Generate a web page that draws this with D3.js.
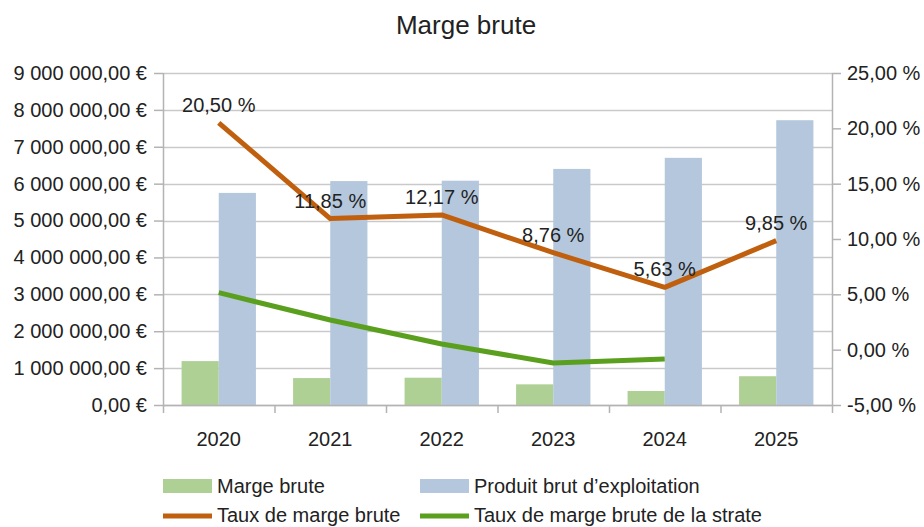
<!DOCTYPE html>
<html>
<head>
<meta charset="utf-8">
<script src="https://cdn.jsdelivr.net/npm/d3@7"></script>
<style>
  html, body { margin: 0; padding: 0; background: #fff; }
  svg { display: block; font-family: "Liberation Sans", Arial, sans-serif; }
</style>
</head>
<body>
<svg id="chart" width="924" height="527"></svg>
<script>
const years = ["2020", "2021", "2022", "2023", "2024", "2025"];
const margeBrute = [1190000, 730000, 740000, 560000, 380000, 780000];
const produitBrut = [5750000, 6070000, 6080000, 6400000, 6700000, 7720000];
const tauxMarge = [20.50, 11.85, 12.17, 8.76, 5.63, 9.85];
const tauxStrate = [5.15, 2.68, 0.51, -1.20, -0.84, null];
const leftTicks = [0, 1000000, 2000000, 3000000, 4000000, 5000000, 6000000, 7000000, 8000000, 9000000];
const rightTicks = [-5, 0, 5, 10, 15, 20, 25];

(function () {
const svg = d3.select("#chart");
const pL = 163, pR = 832, pT = 73, pB = 405;
const fontSize = 20;
const textColor = "#222";
const axisColor = "#b3b3b3";
const gridColor = "#c9c9c9";

const x = d3.scaleBand().domain(years).range([pL, pR]).padding(0);
const x1 = d3.scaleBand().domain(["marge", "produit"]).range([0, x.bandwidth()]).paddingInner(0).paddingOuter(0.5);
const yL = d3.scaleLinear().domain([0, 9000000]).range([pB, pT]);
const yR = d3.scaleLinear().domain([-5, 25]).range([pB, pT]);

const fmtEur = v => {
  const s = d3.format(",.2f")(v).replace(/,/g, " ").replace(".", ",");
  return s + " €";
};
const fmtPct = v => d3.format(".2f")(v).replace(".", ",").replace("\u2212", "-") + " %";

// Title
svg.append("text").attr("x", 466).attr("y", 34).attr("text-anchor", "middle")
  .attr("font-size", 26).attr("fill", textColor).text("Marge brute");

// Gridlines
svg.append("g").selectAll("line").data(leftTicks).join("line")
  .attr("x1", pL).attr("x2", pR)
  .attr("y1", d => Math.round(yL(d)) + 0.5).attr("y2", d => Math.round(yL(d)) + 0.5)
  .attr("stroke", gridColor).attr("stroke-width", 1.5);

// Left axis
const gL = svg.append("g").attr("transform", `translate(${pL},0)`)
  .call(d3.axisLeft(yL).tickValues(leftTicks).tickFormat(fmtEur).tickSize(9).tickPadding(7));
gL.select(".domain").remove();
gL.selectAll(".tick line").attr("stroke", axisColor).attr("stroke-width", 1.5);
gL.selectAll(".tick text").attr("font-size", fontSize).attr("fill", textColor).attr("font-family", "Liberation Sans, Arial, sans-serif");

// Right axis
const gR = svg.append("g").attr("transform", `translate(${pR},0)`)
  .call(d3.axisRight(yR).tickValues(rightTicks).tickFormat(fmtPct).tickSize(9).tickPadding(6));
gR.select(".domain").remove();
gR.selectAll(".tick line").attr("stroke", axisColor).attr("stroke-width", 1.5);
gR.selectAll(".tick text").attr("font-size", fontSize).attr("fill", textColor).attr("font-family", "Liberation Sans, Arial, sans-serif");

// Bars
const barGroups = svg.append("g").selectAll("g").data(years).join("g")
  .attr("transform", d => `translate(${x(d)},0)`);
barGroups.append("rect")
  .attr("x", x1("marge")).attr("width", x1.bandwidth())
  .attr("y", (d, i) => yL(margeBrute[i])).attr("height", (d, i) => yL(0) - yL(margeBrute[i]))
  .attr("fill", "#afd095");
barGroups.append("rect")
  .attr("x", x1("produit")).attr("width", x1.bandwidth())
  .attr("y", (d, i) => yL(produitBrut[i])).attr("height", (d, i) => yL(0) - yL(produitBrut[i]))
  .attr("fill", "#b4c7dc");

// Vertical axis lines
svg.append("line").attr("x1", pL + 0.5).attr("x2", pL + 0.5).attr("y1", pT).attr("y2", pB + 8)
  .attr("stroke", axisColor).attr("stroke-width", 1.5);
svg.append("line").attr("x1", pR + 0.5).attr("x2", pR + 0.5).attr("y1", pT).attr("y2", pB + 8)
  .attr("stroke", axisColor).attr("stroke-width", 1.5);

// Bottom axis
const gX = svg.append("g").attr("transform", `translate(0,${pB})`)
  .call(d3.axisBottom(x).tickSize(0).tickPadding(27));
gX.select(".domain").attr("stroke", axisColor).attr("stroke-width", 1.5);
gX.selectAll(".tick text").attr("font-size", fontSize).attr("fill", textColor).attr("font-family", "Liberation Sans, Arial, sans-serif");
svg.append("g").selectAll("line").data(years.slice(1)).join("line")
  .attr("x1", d => x(d) + 0.5).attr("x2", d => x(d) + 0.5)
  .attr("y1", pB).attr("y2", pB + 8)
  .attr("stroke", axisColor).attr("stroke-width", 1.5);

// Lines
const cx = d => x(d) + x.bandwidth() / 2;
const lineGen = d3.line().defined(d => d.v !== null).x(d => cx(d.year)).y(d => yR(d.v));
svg.append("path").datum(years.map((y, i) => ({ year: y, v: tauxStrate[i] })))
  .attr("d", lineGen).attr("fill", "none").attr("stroke", "#5aa01e").attr("stroke-width", 5)
  .attr("stroke-linejoin", "round");
svg.append("path").datum(years.map((y, i) => ({ year: y, v: tauxMarge[i] })))
  .attr("d", lineGen).attr("fill", "none").attr("stroke", "#c0600e").attr("stroke-width", 5)
  .attr("stroke-linejoin", "round");

// Data labels
svg.append("g").selectAll("text").data(years).join("text")
  .attr("x", d => cx(d)).attr("y", (d, i) => yR(tauxMarge[i]) - 11)
  .attr("text-anchor", "middle").attr("font-size", fontSize).attr("fill", textColor)
  .text((d, i) => fmtPct(tauxMarge[i]));

// Legend
const legend = svg.append("g");
const items = [
  { label: "Marge brute", type: "rect", color: "#afd095", x: 163, y: 486 },
  { label: "Produit brut d’exploitation", type: "rect", color: "#b4c7dc", x: 420, y: 486 },
  { label: "Taux de marge brute", type: "line", color: "#c0600e", x: 163, y: 515 },
  { label: "Taux de marge brute de la strate", type: "line", color: "#5aa01e", x: 420, y: 515 }
];
items.forEach(it => {
  if (it.type === "rect") {
    legend.append("rect").attr("x", it.x).attr("y", it.y - 7).attr("width", 49).attr("height", 14).attr("fill", it.color);
  } else {
    legend.append("line").attr("x1", it.x).attr("x2", it.x + 49).attr("y1", it.y + 1).attr("y2", it.y + 1)
      .attr("stroke", it.color).attr("stroke-width", 5);
  }
  legend.append("text").attr("x", it.x + 54).attr("y", it.y + 7).attr("font-size", fontSize)
    .attr("fill", textColor).text(it.label);
});
})();
</script>
</body>
</html>
